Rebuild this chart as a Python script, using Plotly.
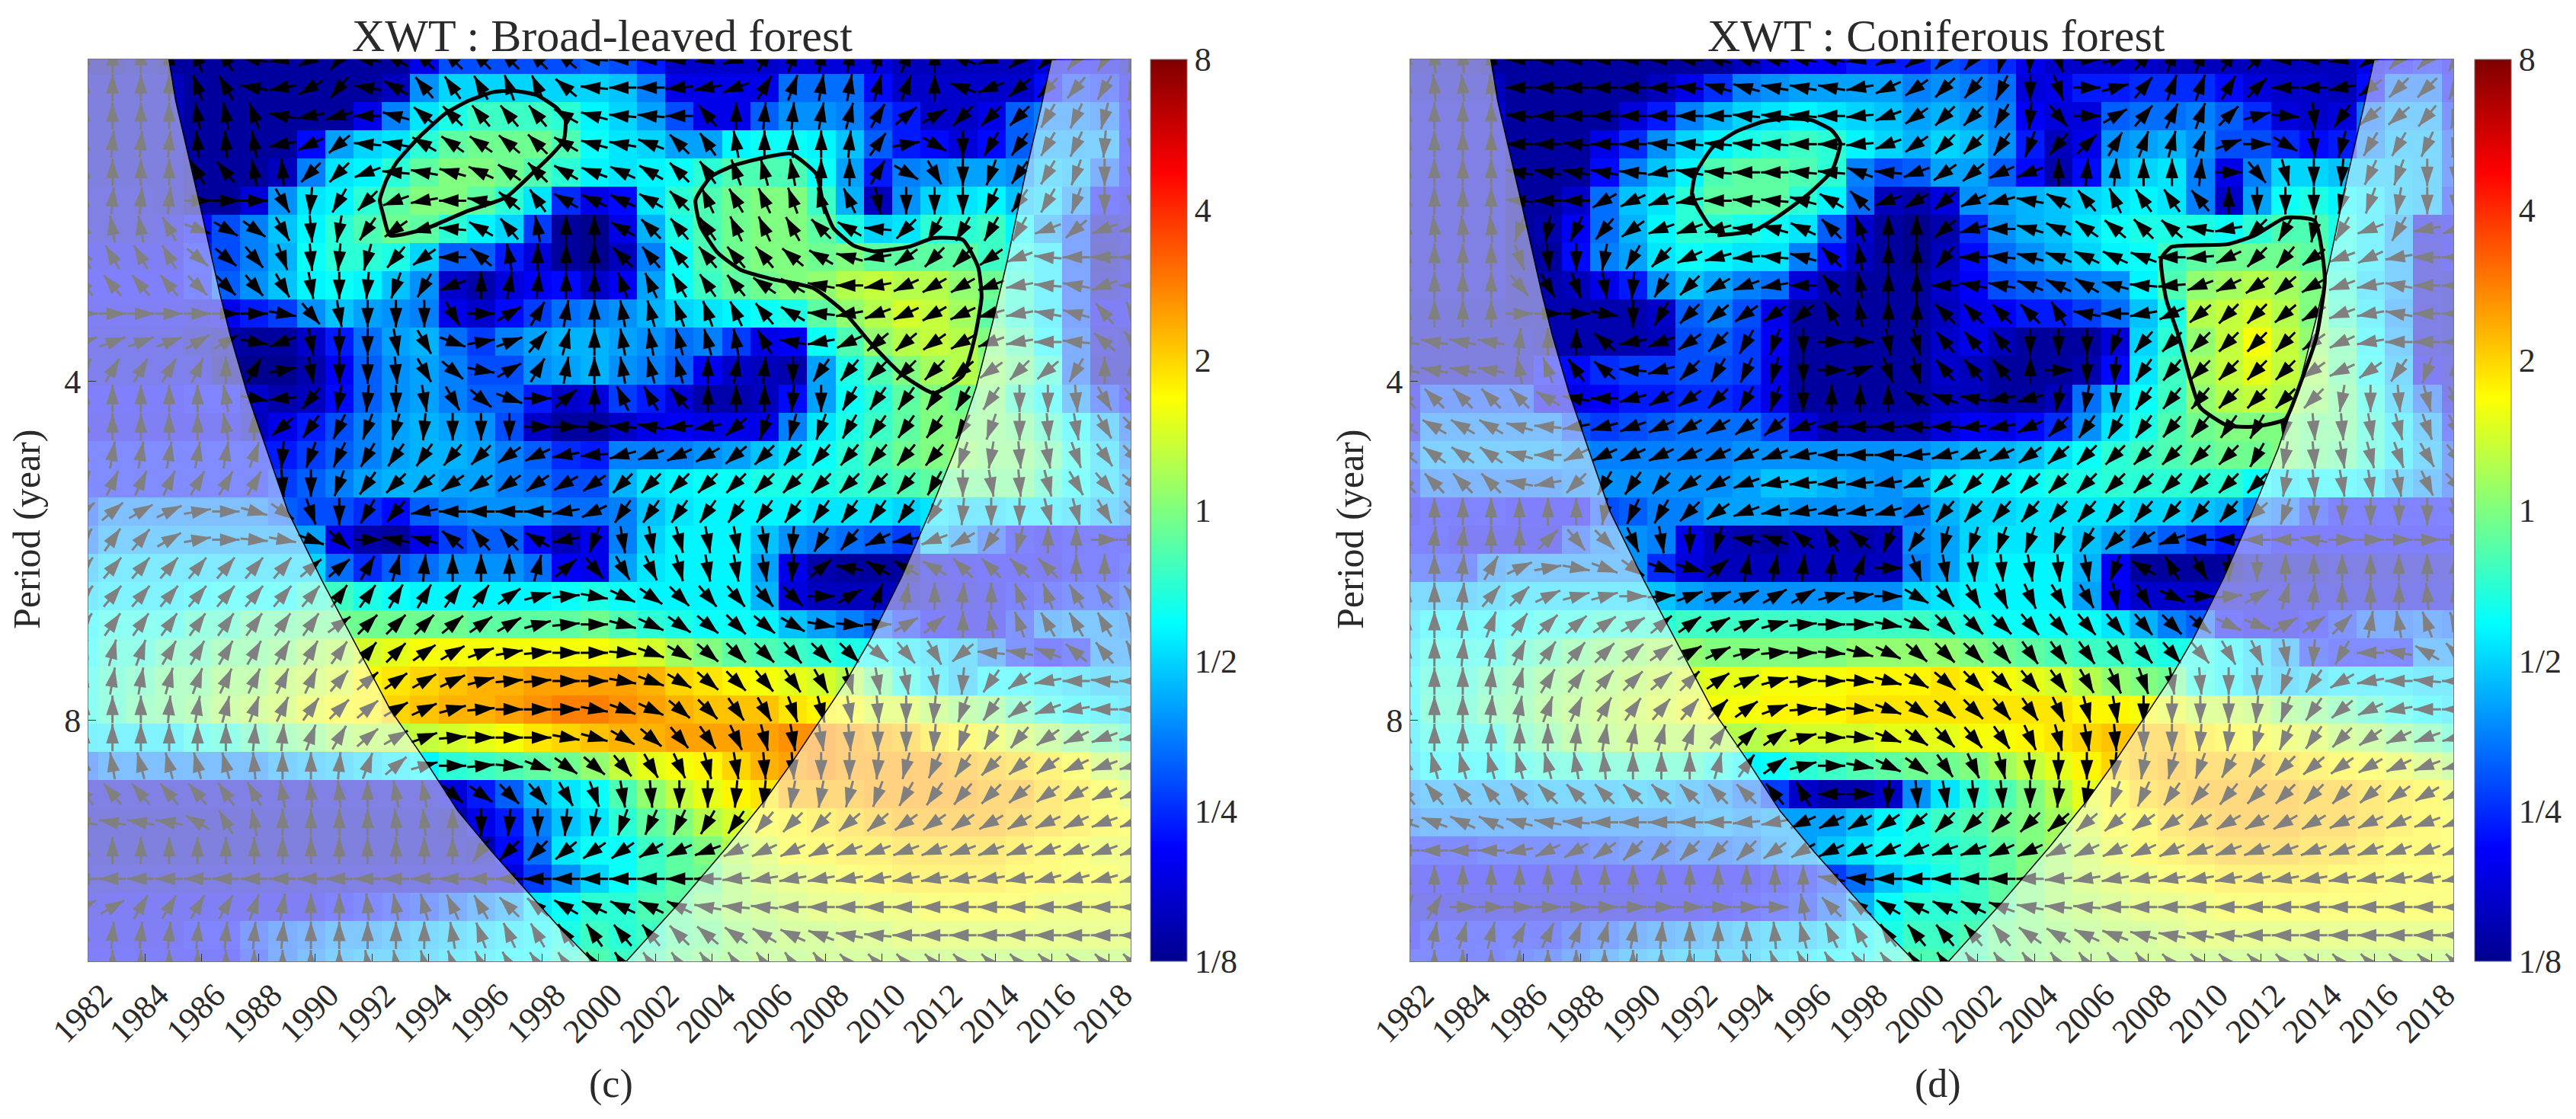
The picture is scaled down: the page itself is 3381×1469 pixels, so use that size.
import numpy as np
import plotly.graph_objects as go

W, H = 3381, 1469
FONT = "Liberation Serif"
TXT = "#2a2a2a"

YEAR_TICKS = list(range(1982, 2019, 2))
PERIOD_TICKS = [2, 3]
PERIOD_LABELS = ["4", "8"]
POWER_TICKS = [-3, -2, -1, 0, 1, 2, 3]
POWER_LABELS = ["1/8", "1/4", "1/2", "1", "2", "4", "8"]

# cells are one year wide, 12 voices per octave
CELL_YEARS = [1981.85 + i for i in range(38)]
CELL_LOG2P = [1.05 + k / 12 for k in range(33)]

# XWT power, in tenths of log2
POWER_C = [
    [-29,-29,-28,-29,-29,-29,-29,-29,-29,-29,-29,-29,-24,-18,-18,-18,-18,-18,-17,-18,-21,-26,-26,-26,-26,-25,-25,-25,-25,-27,-27,-27,-27,-27,-25,-23,-24,-27],
    [-27,-27,-27,-27,-29,-29,-29,-29,-29,-29,-29,-27,-14,-10,-10,-10,-10,-10,-10,-11,-15,-24,-24,-24,-24,-16,-16,-16,-22,-26,-26,-26,-26,-26,-22,-19,-20,-24],
    [-27,-27,-27,-27,-29,-29,-29,-29,-29,-29,-24,-15,-9,-6,-4,-4,-4,-5,-8,-10,-13,-18,-24,-24,-17,-14,-14,-15,-19,-21,-26,-26,-24,-17,-15,-15,-16,-22],
    [-27,-27,-27,-27,-29,-29,-29,-29,-22,-13,-10,-9,-5,-2,-1,-1,-1,-3,-7,-9,-10,-13,-13,-8,-7,-7,-8,-11,-17,-21,-22,-25,-22,-17,-13,-13,-13,-22],
    [-27,-27,-27,-27,-29,-29,-29,-27,-15,-9,-8,-5,-2,0,0,-1,-3,-5,-8,-9,-8,-7,-5,-3,-3,-3,-7,-13,-21,-15,-14,-13,-13,-14,-11,-12,-17,-22],
    [-26,-26,-26,-27,-29,-29,-25,-14,-9,-8,-5,-2,0,0,-2,-5,-9,-20,-24,-22,-9,-5,-3,-1,0,0,-4,-12,-27,-14,-10,-9,-8,-11,-10,-14,-22,-24],
    [-26,-26,-26,-25,-22,-18,-15,-11,-8,-5,-3,-1,-2,-5,-8,-10,-19,-29,-30,-24,-12,-6,-3,-1,0,0,-2,-6,-10,-9,-5,-5,-4,-8,-13,-18,-27,-26],
    [-24,-24,-24,-24,-21,-18,-15,-12,-7,-5,-5,-6,-10,-17,-17,-21,-25,-29,-30,-27,-15,-7,-3,-1,0,0,-1,0,-2,-2,-2,-2,-4,-6,-9,-18,-28,-26],
    [-23,-23,-23,-23,-21,-17,-14,-11,-8,-7,-8,-11,-14,-26,-28,-25,-23,-22,-26,-23,-13,-7,-4,-2,-1,0,1,3,4,3,3,1,-1,-5,-9,-18,-27,-25],
    [-24,-24,-24,-24,-25,-24,-21,-19,-14,-11,-13,-14,-15,-24,-26,-22,-19,-16,-15,-14,-12,-10,-9,-8,-7,-6,-2,1,3,5,4,2,-2,-5,-9,-18,-24,-24],
    [-25,-25,-25,-25,-27,-28,-29,-29,-26,-21,-16,-13,-12,-16,-19,-15,-13,-12,-12,-13,-14,-16,-15,-19,-24,-23,-7,-3,1,3,4,3,0,-3,-8,-17,-26,-27],
    [-25,-25,-25,-25,-25,-29,-30,-30,-28,-23,-17,-14,-13,-15,-18,-18,-14,-13,-12,-14,-15,-17,-23,-26,-27,-28,-13,-6,-3,0,2,3,1,-1,-5,-17,-27,-27],
    [-23,-23,-23,-23,-22,-22,-26,-28,-27,-22,-17,-14,-13,-15,-17,-17,-21,-26,-25,-19,-21,-25,-28,-28,-27,-22,-13,-7,-5,-2,0,-1,0,-4,-7,-14,-19,-22],
    [-24,-24,-24,-24,-24,-24,-27,-24,-21,-18,-15,-13,-12,-13,-14,-18,-26,-29,-29,-26,-24,-23,-24,-24,-24,-15,-9,-6,-4,-2,0,0,0,-1,-4,-8,-12,-17],
    [-21,-21,-21,-21,-21,-21,-21,-21,-19,-17,-15,-13,-12,-12,-13,-15,-17,-20,-21,-15,-15,-15,-14,-13,-11,-9,-7,-5,-3,-1,0,1,0,0,-2,-6,-10,-15],
    [-21,-21,-21,-21,-21,-21,-21,-19,-17,-15,-13,-12,-12,-13,-13,-15,-16,-18,-18,-12,-9,-8,-7,-7,-6,-6,-6,-5,-4,-3,-2,-1,-1,-1,-4,-7,-10,-13],
    [-18,-15,-15,-15,-15,-15,-15,-17,-18,-18,-20,-22,-17,-15,-14,-14,-14,-16,-16,-15,-11,-9,-8,-8,-8,-8,-9,-9,-9,-10,-9,-10,-10,-9,-9,-10,-12,-14],
    [-16,-13,-13,-13,-13,-13,-13,-13,-13,-24,-28,-29,-24,-19,-17,-17,-22,-27,-24,-15,-10,-8,-8,-8,-11,-14,-15,-16,-17,-19,-11,-14,-18,-22,-23,-22,-22,-22],
    [-12,-10,-10,-10,-10,-10,-10,-10,-10,-16,-20,-17,-16,-14,-14,-14,-16,-23,-24,-13,-9,-8,-8,-8,-13,-24,-28,-29,-29,-29,-25,-24,-23,-23,-24,-22,-22,-21],
    [-10,-9,-9,-9,-8,-7,-7,-7,-5,-4,-6,-7,-8,-8,-8,-8,-8,-7,-6,-7,-8,-8,-8,-8,-12,-25,-27,-27,-27,-27,-26,-25,-24,-22,-21,-20,-20,-18],
    [-8,-6,-6,-6,-4,-4,-2,-2,-1,-1,-1,-1,-1,-1,-2,-2,-2,-2,-1,-3,-5,-6,-7,-7,-8,-11,-13,-15,-17,-20,-23,-24,-24,-20,-15,-14,-14,-15],
    [-7,-5,-5,-3,-3,-1,-1,0,2,3,5,6,7,7,7,7,7,7,7,6,5,2,0,-2,-3,-4,-5,-6,-7,-9,-10,-11,-15,-20,-22,-21,-14,-14],
    [-6,-4,-3,-1,-1,1,1,3,4,5,8,9,10,11,12,12,13,13,13,13,12,10,9,8,7,6,5,3,-1,-6,-9,-11,-8,-8,-9,-10,-11,-11],
    [-6,-4,-2,-1,0,2,3,4,6,7,8,10,11,12,12,13,14,15,15,14,13,12,11,11,11,9,8,7,5,5,3,1,0,-3,-6,-8,-9,-10],
    [-9,-9,-9,-9,-6,-5,-3,-1,0,2,3,3,4,5,6,7,9,10,11,12,12,13,13,13,13,14,14,13,12,11,9,8,6,4,2,0,-2,-4],
    [-17,-15,-15,-15,-15,-15,-15,-13,-12,-11,-10,-9,-8,-5,-4,-3,-2,-1,1,4,6,7,8,10,12,13,14,13,13,13,13,12,11,10,9,7,4,2],
    [-26,-26,-26,-26,-26,-26,-26,-26,-26,-26,-26,-26,-26,-25,-21,-17,-12,-9,-7,-3,1,4,6,8,9,12,12,12,13,13,13,13,12,12,10,9,7,5],
    [-27,-27,-27,-27,-27,-27,-27,-27,-27,-27,-27,-27,-27,-28,-24,-21,-15,-11,-9,-5,-2,0,3,5,7,8,9,10,11,12,12,12,12,11,10,9,8,7],
    [-27,-27,-27,-27,-27,-27,-27,-27,-27,-27,-27,-27,-27,-27,-28,-22,-16,-9,-7,-7,-4,-2,0,3,5,7,8,9,9,10,10,10,10,9,8,7,6,6],
    [-26,-26,-26,-26,-26,-26,-26,-26,-26,-26,-26,-26,-26,-26,-26,-25,-19,-14,-10,-7,-4,-2,-1,2,4,5,6,7,8,9,9,9,9,8,8,7,7,6],
    [-25,-24,-24,-24,-24,-24,-24,-24,-24,-22,-21,-20,-19,-17,-15,-13,-9,-7,-5,-5,-3,-2,0,2,3,4,5,5,6,6,7,7,7,7,6,6,6,6],
    [-24,-24,-24,-24,-22,-22,-19,-17,-16,-14,-14,-13,-12,-11,-10,-9,-8,-6,-4,-5,-4,-2,-1,1,2,3,3,4,4,5,5,5,5,5,5,5,5,5],
    [-23,-23,-23,-23,-23,-23,-20,-17,-15,-13,-12,-12,-11,-10,-9,-8,-7,-5,-3,-4,-3,-1,0,1,2,2,3,3,3,3,3,3,3,3,3,3,3,3],
]

# phase arrows, degrees counter-clockwise from east
PHASE_C = [
    [90,90,90,90,110,120,170,190,210,230,170,150,135,135,135,135,135,140,175,180,180,185,190,200,60,70,80,80,75,70,90,160,200,220,225,230,240,250],
    [90,90,90,90,110,120,170,190,210,230,170,150,130,125,120,110,115,140,175,180,180,185,190,200,60,70,80,80,75,70,90,160,200,220,225,230,240,250],
    [90,90,90,90,100,100,110,170,190,195,180,165,140,135,130,130,130,150,165,175,175,180,130,90,85,85,80,75,60,40,30,225,225,225,240,245,255,260],
    [85,85,85,85,95,95,100,190,205,220,175,170,150,145,145,140,135,150,165,170,160,135,125,100,90,90,90,85,55,10,330,270,240,235,240,245,265,270],
    [90,90,90,90,120,130,100,95,225,225,200,175,170,165,155,145,135,150,160,155,150,135,125,110,105,100,90,90,60,330,300,270,250,235,240,250,270,270],
    [85,85,85,85,0,0,0,300,265,240,225,200,190,180,170,140,125,150,155,155,150,135,115,120,115,110,105,115,280,270,270,270,245,235,240,250,270,275],
    [100,100,100,120,340,330,325,300,275,260,235,215,195,175,150,130,100,90,90,150,135,130,125,115,115,120,135,150,175,225,240,240,240,240,200,220,200,190],
    [120,120,120,120,320,320,310,290,275,265,255,230,215,180,140,100,90,90,90,135,130,130,130,130,130,140,150,165,190,215,225,225,215,200,175,180,180,180],
    [130,130,130,130,315,315,310,300,280,270,265,250,240,200,90,80,85,90,90,110,115,120,125,130,145,150,170,180,190,205,210,210,200,190,175,170,200,180],
    [0,0,0,0,0,0,0,350,310,280,270,270,270,300,0,30,60,80,90,100,105,110,110,115,130,150,175,190,200,205,210,205,195,190,170,165,130,120],
    [20,20,20,20,30,30,350,200,280,270,270,280,300,340,10,20,50,75,90,100,100,105,105,100,120,170,190,205,220,220,215,210,200,190,180,175,140,130],
    [60,60,60,60,65,90,60,10,280,270,270,275,300,320,350,30,60,80,90,100,105,105,90,80,85,270,235,230,225,225,225,220,215,225,220,240,90,90],
    [90,90,90,90,90,100,350,185,230,260,265,270,280,300,320,340,0,40,90,115,120,130,90,90,90,265,270,240,235,235,235,240,235,270,270,275,300,310],
    [90,90,90,90,90,100,90,220,235,245,250,255,265,270,270,270,0,0,0,175,170,185,190,220,250,255,250,240,235,235,235,240,250,270,275,280,300,315],
    [80,80,80,80,80,80,70,265,250,245,240,235,235,230,225,215,205,190,185,195,200,205,210,220,225,230,230,230,230,230,230,250,260,275,280,290,305,315],
    [65,65,65,65,60,60,60,275,270,250,235,225,220,215,215,215,215,210,215,225,225,225,225,225,225,225,225,225,225,230,240,270,280,275,285,300,310,320],
    [40,40,30,25,10,0,345,325,290,270,240,230,190,180,180,180,180,190,205,235,235,235,235,235,235,235,235,235,235,235,240,265,270,270,285,285,300,310],
    [55,55,50,30,10,0,355,350,340,320,0,170,165,140,130,130,150,190,250,280,280,285,280,280,280,265,240,230,205,190,200,210,235,255,90,90,0,0],
    [50,50,50,50,50,50,50,50,40,40,60,75,85,90,90,90,75,40,310,300,295,285,280,280,280,265,40,170,150,150,150,135,135,135,135,90,90,90],
    [50,50,50,50,50,50,50,50,50,55,55,60,60,55,55,35,15,5,350,335,325,315,310,310,310,315,0,30,70,80,90,85,90,110,110,120,125,130],
    [55,55,55,55,55,55,55,55,55,35,45,45,45,40,35,30,15,5,0,345,335,325,320,315,320,330,350,355,0,30,40,90,100,110,120,120,120,120],
    [75,75,70,60,60,60,60,60,60,55,50,45,35,30,20,10,5,0,0,355,340,330,320,315,315,310,315,315,320,310,300,220,175,170,160,140,130,120],
    [80,80,80,75,70,65,65,65,65,50,40,35,30,25,15,5,5,0,0,350,340,330,320,315,310,305,300,285,280,280,280,265,235,215,190,180,175,180],
    [90,90,90,85,80,75,70,65,55,45,40,30,25,15,5,0,0,0,350,340,335,320,315,305,300,290,285,280,275,270,265,250,235,215,200,190,180,180],
    [90,90,90,90,90,90,85,85,70,60,40,30,20,5,0,0,0,350,345,330,320,310,305,295,285,280,280,275,270,270,265,250,240,230,215,205,200,190],
    [100,100,105,105,105,105,95,90,90,85,70,40,15,0,5,355,340,325,320,310,300,295,285,280,275,275,270,270,265,255,245,235,225,220,215,205,200,195],
    [130,130,130,130,130,125,120,100,95,95,90,100,100,320,325,315,310,300,290,280,275,270,270,265,265,260,260,255,250,240,235,230,225,220,215,210,205,200],
    [170,170,170,170,150,120,100,90,90,90,90,95,95,90,270,265,270,265,260,250,245,245,240,235,230,225,225,220,220,215,215,215,210,210,205,205,200,200],
    [90,90,90,90,90,90,90,90,90,90,90,90,90,90,235,225,225,220,215,215,210,205,200,205,205,205,205,200,200,200,200,200,200,200,200,200,200,200],
    [180,180,180,180,180,180,180,180,180,180,180,180,180,180,180,180,180,180,180,180,180,180,180,185,190,190,190,190,190,190,190,190,190,190,195,195,195,195],
    [30,30,60,60,60,60,70,80,90,90,95,100,105,115,120,135,140,150,155,155,155,155,170,175,175,180,180,180,180,180,180,180,180,180,180,180,180,180],
    [85,85,85,85,85,85,85,85,90,90,90,90,90,100,110,115,120,125,125,130,130,135,140,145,150,155,160,170,175,180,180,180,180,180,180,180,180,180],
    [90,90,90,90,90,90,90,90,90,90,100,100,105,110,115,120,125,125,125,125,125,125,125,125,125,125,125,135,135,135,135,135,135,135,135,135,135,135],
]

POWER_D = [
    [-28,-28,-28,-29,-29,-29,-29,-29,-29,-29,-29,-29,-27,-25,-23,-23,-21,-21,-21,-18,-19,-20,-24,-26,-26,-26,-26,-27,-27,-27,-27,-27,-27,-27,-24,-22,-21,-23],
    [-27,-27,-27,-27,-29,-29,-29,-29,-29,-27,-24,-20,-15,-14,-13,-13,-13,-13,-15,-14,-15,-16,-25,-24,-21,-21,-20,-20,-20,-22,-25,-26,-26,-27,-22,-16,-16,-22],
    [-26,-26,-26,-26,-29,-29,-29,-29,-25,-21,-15,-12,-10,-9,-8,-9,-10,-11,-13,-12,-13,-15,-23,-25,-25,-17,-16,-16,-15,-17,-20,-25,-26,-25,-16,-13,-13,-20],
    [-26,-26,-26,-26,-29,-29,-29,-24,-20,-14,-10,-8,-6,-5,-4,-5,-8,-10,-12,-10,-11,-14,-21,-27,-24,-14,-13,-12,-14,-18,-18,-20,-22,-21,-15,-12,-12,-18],
    [-26,-26,-26,-26,-29,-29,-29,-22,-15,-11,-8,-3,-2,-2,-3,-5,-15,-18,-17,-13,-13,-17,-22,-28,-22,-12,-10,-9,-15,-24,-15,-10,-10,-11,-11,-11,-12,-18],
    [-26,-26,-26,-26,-29,-29,-26,-16,-11,-9,-5,-2,-2,-2,-5,-8,-16,-27,-28,-25,-14,-13,-12,-11,-10,-9,-8,-9,-15,-26,-13,-7,-6,-8,-9,-11,-12,-20],
    [-26,-26,-26,-26,-29,-28,-23,-16,-12,-8,-5,-5,-6,-7,-9,-17,-26,-29,-30,-28,-20,-14,-12,-11,-9,-7,-6,-6,-6,-7,-5,-3,-3,-6,-9,-13,-25,-24],
    [-26,-26,-26,-26,-29,-29,-22,-15,-13,-9,-7,-8,-9,-9,-15,-22,-27,-29,-30,-27,-22,-16,-14,-12,-10,-8,-7,-4,-2,-1,-1,-1,-2,-6,-9,-13,-26,-24],
    [-26,-26,-26,-26,-28,-28,-27,-24,-21,-14,-11,-13,-15,-16,-25,-28,-29,-29,-29,-26,-23,-18,-17,-16,-15,-14,-8,-3,1,2,3,2,0,-5,-10,-13,-26,-27],
    [-27,-27,-27,-27,-28,-28,-28,-28,-28,-26,-17,-15,-18,-24,-29,-29,-29,-29,-29,-27,-24,-23,-21,-21,-19,-16,-11,-6,3,4,5,3,0,-4,-9,-14,-26,-27],
    [-27,-27,-27,-27,-27,-28,-28,-28,-28,-27,-18,-17,-19,-23,-29,-29,-29,-29,-29,-26,-24,-27,-29,-29,-29,-25,-10,-5,1,4,7,4,1,-2,-8,-13,-26,-27],
    [-27,-27,-27,-27,-27,-22,-22,-20,-19,-19,-18,-18,-19,-24,-29,-29,-29,-29,-29,-26,-27,-29,-29,-29,-28,-22,-9,-4,2,4,6,4,2,-2,-7,-12,-24,-26],
    [-24,-18,-18,-18,-18,-24,-24,-23,-21,-21,-20,-20,-21,-24,-29,-29,-29,-29,-29,-27,-27,-29,-29,-27,-16,-11,-7,-4,1,3,4,3,1,-1,-6,-11,-17,-25],
    [-24,-15,-15,-15,-15,-15,-18,-19,-18,-17,-16,-16,-16,-19,-25,-28,-28,-28,-28,-25,-23,-24,-22,-20,-14,-9,-6,-3,-1,0,0,0,-1,-1,-5,-9,-13,-21],
    [-19,-13,-13,-13,-13,-13,-14,-15,-15,-15,-15,-15,-14,-14,-14,-14,-14,-14,-14,-13,-12,-12,-11,-9,-7,-5,-4,-3,-2,-1,-1,0,-1,-2,-5,-9,-12,-18],
    [-21,-16,-16,-16,-16,-16,-15,-14,-14,-14,-14,-14,-13,-11,-11,-12,-13,-14,-12,-9,-8,-8,-7,-6,-6,-5,-5,-5,-5,-5,-7,-9,-8,-8,-9,-12,-14,-18],
    [-24,-22,-22,-22,-23,-23,-23,-18,-17,-15,-15,-13,-13,-13,-14,-14,-14,-14,-15,-12,-10,-10,-9,-9,-9,-9,-10,-10,-11,-12,-15,-16,-20,-22,-22,-22,-22,-22],
    [-22,-22,-24,-24,-24,-24,-18,-15,-14,-15,-24,-27,-28,-29,-27,-27,-28,-27,-14,-13,-10,-9,-9,-9,-11,-13,-15,-17,-19,-21,-21,-23,-23,-23,-23,-23,-23,-23],
    [-20,-20,-20,-15,-14,-14,-14,-14,-14,-20,-25,-27,-27,-27,-27,-27,-27,-27,-15,-13,-9,-8,-8,-8,-12,-23,-29,-29,-29,-29,-27,-27,-27,-26,-26,-26,-26,-26],
    [-12,-12,-12,-11,-10,-10,-10,-10,-10,-11,-13,-14,-14,-14,-14,-14,-14,-14,-10,-9,-8,-8,-8,-8,-13,-23,-26,-26,-26,-26,-25,-25,-25,-25,-25,-25,-25,-25],
    [-10,-8,-8,-8,-7,-6,-6,-5,-5,-5,-4,-4,-4,-4,-4,-4,-4,-4,-4,-5,-6,-7,-7,-7,-7,-9,-12,-15,-17,-22,-24,-24,-22,-20,-17,-17,-16,-17],
    [-9,-6,-6,-6,-4,-3,-1,0,1,2,1,0,0,0,0,0,1,1,1,1,0,-1,-2,-3,-4,-4,-5,-6,-6,-8,-10,-13,-20,-21,-21,-21,-14,-14],
    [-8,-5,-5,-3,-2,0,1,2,3,4,5,6,6,7,7,7,8,8,8,9,8,7,6,5,3,1,0,-1,-6,-8,-10,-11,-10,-9,-9,-9,-10,-10],
    [-8,-4,-4,-2,-1,1,2,3,4,5,6,7,7,8,8,8,9,9,9,9,9,9,9,9,8,8,7,6,4,4,3,1,0,-2,-4,-6,-8,-9],
    [-9,-6,-6,-6,-3,-1,1,2,3,3,3,3,3,4,5,5,5,6,6,6,7,7,8,9,10,11,11,11,9,8,7,6,5,3,2,0,-2,-4],
    [-10,-8,-8,-8,-6,-5,-5,-4,-4,-4,-4,-6,-8,-7,-5,-4,-3,-2,-1,-1,0,2,4,6,8,10,11,12,11,11,11,10,9,8,7,6,4,2],
    [-14,-13,-13,-13,-13,-12,-12,-12,-11,-12,-13,-14,-16,-19,-26,-28,-28,-26,-14,-9,-5,-3,0,3,6,8,10,11,12,12,12,12,11,11,10,9,8,6],
    [-16,-15,-15,-15,-15,-15,-15,-15,-15,-15,-14,-13,-14,-13,-13,-13,-11,-8,-6,-4,-3,-1,0,2,5,7,8,10,11,12,12,12,11,11,10,9,8,7],
    [-21,-21,-21,-20,-20,-20,-20,-19,-18,-18,-17,-17,-16,-14,-13,-11,-9,-7,-6,-5,-4,-2,0,2,4,6,8,9,10,11,11,11,10,10,9,8,8,7],
    [-24,-23,-23,-23,-23,-23,-23,-23,-23,-23,-23,-23,-23,-22,-21,-19,-16,-11,-8,-6,-4,-2,0,2,4,5,6,7,8,9,9,9,9,8,8,7,7,7],
    [-25,-25,-25,-25,-25,-25,-25,-25,-25,-24,-24,-23,-22,-21,-20,-17,-12,-7,-5,-5,-4,-2,0,2,3,4,5,5,6,7,7,7,7,7,7,7,7,7],
    [-23,-21,-21,-21,-21,-21,-19,-18,-16,-15,-14,-13,-12,-11,-11,-10,-8,-6,-4,-4,-3,-1,0,1,2,3,3,4,5,5,5,5,5,5,5,5,5,5],
    [-21,-21,-21,-21,-20,-19,-17,-15,-13,-12,-11,-11,-11,-10,-9,-8,-7,-5,-3,-3,-3,-1,0,1,2,2,3,3,3,3,3,3,3,3,3,3,3,3],
]

PHASE_D = [
    [95,95,95,95,180,180,180,180,180,180,175,165,165,170,170,170,190,205,215,225,230,255,265,290,0,15,50,70,70,60,45,180,180,190,215,225,225,240],
    [95,95,95,95,180,180,180,180,180,180,175,165,165,170,170,170,190,205,215,225,230,245,270,290,0,15,50,70,70,60,45,180,180,190,215,225,225,240],
    [90,90,90,90,175,180,180,180,180,180,180,180,175,175,175,180,185,200,215,225,225,240,265,310,0,30,50,65,70,45,15,355,275,235,220,220,230,250],
    [90,90,90,90,180,180,175,180,180,175,175,175,175,175,180,180,185,200,215,225,225,235,250,230,45,60,70,75,70,20,0,330,275,255,240,240,245,255],
    [90,90,90,90,170,170,170,170,175,190,170,175,180,180,175,175,160,175,200,215,220,205,200,90,85,85,90,90,85,0,310,285,270,265,245,250,270,270],
    [90,90,90,90,175,180,180,210,205,200,190,180,175,175,165,150,135,200,210,220,205,195,170,150,130,115,125,125,130,90,270,270,270,255,250,260,270,270],
    [95,95,95,95,250,260,245,230,215,200,200,195,175,165,155,135,110,90,90,220,195,180,165,155,145,140,135,140,170,190,225,240,260,240,200,240,190,200],
    [90,90,90,90,290,275,270,260,240,225,205,195,185,175,165,135,100,90,90,230,180,175,165,160,155,155,160,180,185,205,225,230,215,200,205,190,180,180],
    [90,90,90,90,310,300,290,280,265,240,225,210,200,190,180,130,100,90,90,180,170,170,160,155,150,165,175,185,200,205,215,220,210,200,190,170,180,180],
    [90,90,90,90,0,0,0,350,270,240,225,220,215,215,220,120,100,90,90,135,135,135,135,120,170,180,190,205,220,225,225,220,210,200,190,170,180,180],
    [170,170,170,170,85,90,90,140,190,200,215,225,240,250,270,0,0,280,285,130,130,130,270,270,270,250,230,225,225,225,225,225,215,205,190,180,180,180],
    [170,170,170,170,100,110,125,140,175,195,225,240,245,255,270,0,20,290,285,130,130,130,90,0,270,265,235,230,225,225,225,225,215,205,215,235,250,90],
    [135,135,135,135,135,150,170,180,195,210,215,225,240,250,270,90,90,90,150,160,170,190,195,260,260,265,235,230,230,225,225,225,225,260,270,275,285,300],
    [150,150,150,150,165,175,190,195,200,205,210,210,215,220,200,180,180,180,175,180,185,190,205,225,235,240,235,230,230,235,240,260,275,275,280,285,290,300],
    [145,145,145,145,165,180,205,205,205,205,205,205,205,200,190,180,180,180,185,195,200,205,215,220,225,225,225,225,225,225,240,260,275,280,285,290,300,310],
    [135,135,135,135,170,190,225,240,235,230,215,210,200,190,185,185,185,190,200,220,225,225,225,225,225,225,225,225,225,225,225,260,275,280,280,280,295,315],
    [90,90,90,90,90,90,90,260,245,240,225,215,200,190,190,190,190,195,205,230,230,230,230,230,230,230,230,230,230,230,220,250,270,270,270,270,270,290],
    [85,85,85,90,90,45,310,315,295,280,270,255,170,160,140,120,140,250,235,255,250,250,250,250,240,225,215,200,180,180,180,180,170,0,0,0,0,0],
    [90,90,85,60,25,10,350,340,325,340,345,40,80,80,85,85,70,0,290,280,275,275,280,275,280,250,150,120,300,270,270,90,90,90,90,90,90,90],
    [90,90,85,50,45,25,15,15,0,5,20,20,25,30,30,15,10,0,330,310,300,295,295,300,300,280,300,335,0,5,30,75,85,90,90,90,95,100],
    [90,90,85,70,55,45,40,35,30,40,35,30,25,15,5,0,0,350,335,315,315,315,310,310,310,310,310,315,320,335,340,30,35,45,80,100,110,115],
    [90,90,85,80,65,55,50,45,40,35,30,25,15,5,0,355,345,335,320,315,315,310,305,305,305,305,310,310,310,300,295,280,265,240,180,170,150,135],
    [90,90,90,85,75,60,55,50,45,40,45,35,25,15,5,0,355,345,330,320,315,315,310,305,300,295,290,280,275,270,270,250,235,210,190,180,175,180],
    [90,90,90,85,80,70,65,60,55,50,50,45,35,20,5,0,355,340,325,320,315,310,305,295,285,280,270,270,270,270,265,250,235,220,205,190,180,180],
    [90,90,90,90,90,90,85,80,80,75,70,55,45,35,15,0,355,340,325,315,310,305,295,285,280,275,270,270,265,265,255,245,235,225,215,205,200,195],
    [105,105,105,105,105,105,100,95,90,90,90,75,55,35,15,0,350,335,325,305,295,285,275,270,270,265,260,255,250,240,235,225,220,215,210,205,200,195],
    [130,130,130,130,130,135,135,135,135,135,135,135,135,130,120,180,0,265,275,280,275,275,270,265,260,250,245,235,230,230,225,225,225,225,220,215,210,205],
    [160,160,155,155,165,170,175,180,180,180,180,180,185,190,205,205,210,215,220,225,225,225,225,220,220,220,215,215,215,210,210,210,210,205,205,205,200,200],
    [180,180,180,180,190,205,210,215,225,225,225,225,225,215,210,205,205,205,205,200,200,205,205,205,205,205,205,205,200,200,200,200,200,200,200,200,200,200],
    [90,90,90,90,90,90,90,90,90,90,90,90,90,90,90,170,175,180,180,180,180,180,180,185,190,190,190,190,190,190,190,190,190,190,190,190,190,190],
    [60,60,0,0,0,0,0,0,0,0,0,0,0,0,100,135,145,150,155,155,155,160,170,175,175,180,180,180,180,180,180,180,180,180,180,180,180,180],
    [80,80,75,75,65,65,70,75,80,85,90,90,90,95,105,115,120,125,130,130,130,130,145,150,155,160,165,170,170,175,180,180,180,180,180,180,180,180],
    [90,90,90,90,90,90,90,90,90,90,90,100,105,110,115,120,125,125,125,125,125,125,125,125,125,125,125,135,135,135,135,135,135,135,135,135,135,135],
]

# 95% significance outlines, (year, log2 period)
SIG_C_YEARS = [
    [1992.64,1992.40,1992.28,1992.52,1992.88,1993.66,1994.57,1995.41,1996.25,1996.97,1997.81,1998.53,1998.83,1998.77,1998.29,1997.69,1996.73,1995.29,1993.84,1992.64],
    [2006.78,2005.76,2004.80,2003.96,2003.42,2003.60,2004.20,2005.04,2006.12,2007.56,2008.64,2009.60,2010.68,2011.82,2012.85,2013.27,2013.51,2013.39,2012.85,2011.82,2010.92,2009.72,2009.00,2008.28,2007.92,2007.68,2006.78],
]
SIG_C_LOG2P = [
    [1.569,1.508,1.465,1.405,1.353,1.280,1.211,1.172,1.147,1.142,1.155,1.194,1.229,1.289,1.336,1.384,1.457,1.500,1.551,1.569],
    [1.328,1.341,1.362,1.396,1.465,1.543,1.620,1.672,1.698,1.724,1.793,1.887,1.978,2.034,1.982,1.870,1.750,1.663,1.582,1.577,1.603,1.616,1.599,1.547,1.474,1.388,1.328],
]
SIG_D_YEARS = [
    [1992.83,1992.53,1992.11,1991.93,1992.05,1992.65,1993.49,1994.45,1995.29,1996.14,1996.86,1997.16,1996.86,1996.02,1995.06,1994.09,1992.83],
    [2008.47,2008.83,2010.81,2011.77,2012.85,2013.88,2014.24,2013.94,2013.40,2012.85,2011.77,2010.81,2009.85,2009.49,2009.07,2008.65,2008.47],
]
SIG_D_LOG2P = [
    [1.560,1.539,1.483,1.448,1.388,1.310,1.263,1.233,1.224,1.229,1.259,1.297,1.379,1.448,1.508,1.556,1.569],
    [1.638,1.603,1.595,1.569,1.517,1.526,1.698,1.870,2.000,2.111,2.133,2.130,2.077,1.991,1.862,1.758,1.638],
]

# cone of influence
COI_YEARS = [1984.84,1985.08,1985.44,1985.92,1986.64,1987.00,1987.60,1988.32,1989.04,1990.24,1991.44,1992.64,1993.84,1995.04,1996.25,1997.44,1998.64,1999.73,2000.40,
             2001.02,2002.88,2004.56,2005.88,2006.84,2007.80,2008.76,2009.60,2010.68,2011.67,2012.60,2013.32,2013.92,2014.41,2015.01,2015.61,2015.97]
COI_LOG2P = [1.05,1.172,1.302,1.474,1.741,1.862,2.034,2.206,2.383,2.587,2.776,2.966,3.112,3.267,3.388,3.50,3.612,3.706,3.77,
             3.706,3.534,3.370,3.233,3.121,3.0,2.88,2.759,2.578,2.388,2.197,2.017,1.819,1.646,1.405,1.190,1.052]

X_RANGE = [1982, 2018.77]
Y_RANGE = [3.71, 1.05]
PX_PER_YEAR = 37.2
PX_PER_OCTAVE = 445.0

JET = [
    [0.0, "rgb(0,0,143)"], [0.125, "rgb(0,0,255)"], [0.375, "rgb(0,255,255)"],
    [0.625, "rgb(255,255,0)"], [0.875, "rgb(255,0,0)"], [1.0, "rgb(128,0,0)"],
]

ARROW_HALF = 18


def px_x(p):
    return p / W


def px_y(p):
    return 1 - p / H


def add_panel(fig, power, phase, sig_x, sig_y, suffix, bar_left):
    xa, ya = "x" + suffix, "y" + suffix
    z = np.array(power) / 10.0
    ang = np.radians(np.array(phase, dtype=float))
    assert z.shape == (33, 38) and ang.shape == (33, 38)

    fig.add_trace(go.Heatmap(
        x=CELL_YEARS, y=CELL_LOG2P, z=z, xaxis=xa, yaxis=ya,
        colorscale=JET, zmin=-3, zmax=3, hoverinfo="skip",
        colorbar=dict(
            x=px_x(bar_left), xanchor="left", xref="paper", thickness=48, thicknessmode="pixels",
            y=px_y(670), yanchor="middle", yref="paper", len=1184 / H, lenmode="fraction",
            tickvals=POWER_TICKS, ticktext=POWER_LABELS, ticks="", outlinecolor="#777", outlinewidth=1,
            tickfont=dict(family=FONT, size=44, color=TXT), xpad=0, ypad=0,
        ),
    ))

    gx, gy = np.meshgrid(CELL_YEARS, CELL_LOG2P)
    dx = np.cos(ang) * ARROW_HALF / PX_PER_YEAR
    dy = -np.sin(ang) * ARROW_HALF / PX_PER_OCTAVE
    tip_x, tip_y = gx + dx, gy + dy
    tail_x, tail_y = gx - dx, gy - dy

    shaft_x, shaft_y = [], []
    for a, b, c, d in zip(tail_x.ravel(), tip_x.ravel(), tail_y.ravel(), tip_y.ravel()):
        shaft_x += [a, b, None]
        shaft_y += [c, d, None]
    fig.add_trace(go.Scatter(x=shaft_x, y=shaft_y, xaxis=xa, yaxis=ya, mode="lines",
                             line=dict(color="black", width=3), hoverinfo="skip"))
    fig.add_trace(go.Scatter(x=tip_x.ravel(), y=tip_y.ravel(), xaxis=xa, yaxis=ya, mode="markers",
                             marker=dict(symbol="arrow", size=27, color="black", line_width=0,
                                         angle=(90 - np.array(phase, dtype=float)).ravel(), standoff=0),
                             hoverinfo="skip"))

    # everything outside the cone is washed out
    mask_x = [X_RANGE[0]] + COI_YEARS + [X_RANGE[1], X_RANGE[1], X_RANGE[0], X_RANGE[0]]
    mask_y = [Y_RANGE[1]] + COI_LOG2P + [Y_RANGE[1], Y_RANGE[0] + 0.2, Y_RANGE[0] + 0.2, Y_RANGE[1]]
    fig.add_trace(go.Scatter(x=mask_x, y=mask_y, xaxis=xa, yaxis=ya, mode="none", fill="toself",
                             fillcolor="rgba(255,255,255,0.5)", hoverinfo="skip"))
    fig.add_trace(go.Scatter(x=COI_YEARS, y=COI_LOG2P, xaxis=xa, yaxis=ya, mode="lines",
                             line=dict(color="black", width=1.5), hoverinfo="skip"))
    for xs, ys in zip(sig_x, sig_y):
        fig.add_trace(go.Scatter(x=xs, y=ys, xaxis=xa, yaxis=ya, mode="lines",
                                 line=dict(color="black", width=5, shape="spline", smoothing=0.5), hoverinfo="skip"))


fig = go.Figure()
add_panel(fig, POWER_C, PHASE_C, SIG_C_YEARS, SIG_C_LOG2P, "", 1510)
add_panel(fig, POWER_D, PHASE_D, SIG_D_YEARS, SIG_D_LOG2P, "2", 3248)

axis_common = dict(showgrid=False, zeroline=False, showline=True, mirror=True, linecolor="#777", linewidth=1,
                   ticks="inside", ticklen=10, tickcolor="#333", tickwidth=1)
xaxis_common = dict(axis_common, range=X_RANGE, tickvals=YEAR_TICKS, tickangle=-45, ticklabelshift=18,
                    tickfont=dict(family=FONT, size=44, color=TXT))
yaxis_common = dict(axis_common, range=Y_RANGE, tickvals=PERIOD_TICKS, ticktext=PERIOD_LABELS,
                    tickfont=dict(family=FONT, size=44, color=TXT))

fig.update_layout(
    width=W, height=H, margin=dict(l=0, r=0, t=0, b=0, autoexpand=False), showlegend=False,
    paper_bgcolor="white", plot_bgcolor="white",
    xaxis=dict(xaxis_common, domain=[px_x(116), px_x(1484)], anchor="y"),
    yaxis=dict(yaxis_common, domain=[px_y(1262), px_y(78)], anchor="x"),
    xaxis2=dict(xaxis_common, domain=[px_x(1851), px_x(3220)], anchor="y2"),
    yaxis2=dict(yaxis_common, domain=[px_y(1262), px_y(78)], anchor="x2"),
)


def label(text, x, y, size, angle=0):
    fig.add_annotation(text=text, x=px_x(x), y=px_y(y), xref="paper", yref="paper", showarrow=False,
                       xanchor="center", yanchor="middle", textangle=angle,
                       font=dict(family=FONT, size=size, color=TXT))


label("XWT : Broad-leaved forest", 790, 47, 60)
label("XWT : Coniferous forest", 2541, 47, 60)
label("Period (year)", 35, 695, 50, -90)
label("Period (year)", 1772, 695, 50, -90)
label("(c)", 802, 1423, 52)
label("(d)", 2543, 1423, 52)

fig.write_html("out.html", post_script="document.body.style.margin='0';", config=dict(displayModeBar=False))
